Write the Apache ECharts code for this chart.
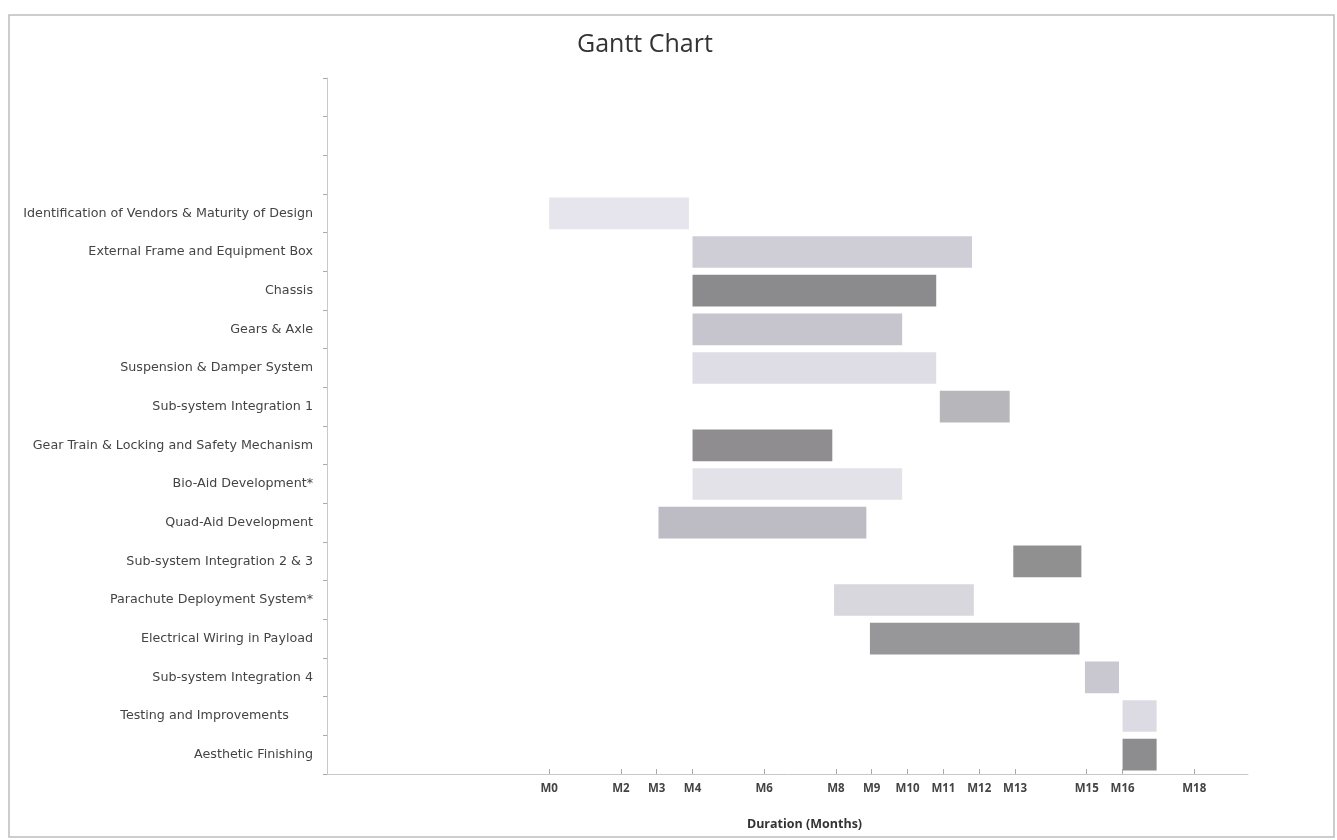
<!DOCTYPE html>
<html>
<head>
<meta charset="utf-8">
<script src="https://cdn.jsdelivr.net/npm/echarts@6/dist/echarts.min.js"></script>
<style>
html,body{margin:0;padding:0;background:#fff;}
#chart{width:1337px;height:840px;}
</style>
</head>
<body>
<div id="chart"></div>
<script>
// Tasks (top to bottom); three blank rows sit above the first task
const blankRows = [' ', '  ', '   '];
const tasks = [
  'Identification of Vendors & Maturity of Design',
  'External Frame and Equipment Box',
  'Chassis',
  'Gears & Axle',
  'Suspension & Damper System',
  'Sub-system Integration 1',
  'Gear Train & Locking and Safety Mechanism',
  'Bio-Aid Development*',
  'Quad-Aid Development',
  'Sub-system Integration 2 & 3',
  'Parachute Deployment System*',
  'Electrical Wiring in Payload',
  'Sub-system Integration 4',
  'Testing and Improvements      ',
  'Aesthetic Finishing'
];
// start month and duration (months)
const startMonth = [0, 4, 4, 4, 4, 10.9, 4, 4, 3.05, 12.95, 7.95, 8.95, 14.95, 16, 16];
const durationMonths = [3.9, 7.8, 6.8, 5.85, 6.8, 1.95, 3.9, 5.85, 5.8, 1.9, 3.9, 5.85, 0.95, 0.95, 0.95];
// x-axis tick positions (months)
const tickMonths = [0, 2, 3, 4, 6, 8, 9, 10, 11, 12, 13, 15, 16, 18];

const barColors = ['#e6e4ec','#cfcdd6','#8b8a8d','#c6c4cd','#dedce4','#b7b6ba','#8f8d90',
                   '#e4e2e9','#bdbbc3','#909091','#d9d7de','#979698','#c9c8d0','#dcdbe3','#8d8c8f'];

const cats = blankRows.concat(tasks);
const pad = blankRows.map(() => null);

const chart = echarts.init(document.getElementById('chart'));
chart.setOption({
  animation: false,
  backgroundColor: '#fff',
  title: {
    text: 'Gantt Chart',
    left: 572, top: 27,
    textStyle: {fontFamily: 'Open Sans', fontSize: 25, fontWeight: 'normal', color: '#333'}
  },
  graphic: [{
    type: 'rect',
    shape: {x: 9, y: 15, width: 1325, height: 822},
    style: {fill: 'none', stroke: '#bdbdbd', lineWidth: 1.5},
    silent: true
  }],
  grid: {left: 327, right: 89, top: 78, bottom: 66, containLabel: false},
  xAxis: {
    type: 'value',
    min: -6.2, max: 19.5,
    name: 'Duration (Months)',
    nameLocation: 'middle',
    nameGap: 44,
    nameTextStyle: {fontFamily: 'Open Sans', fontSize: 12.5, fontWeight: 'bold', color: '#333', padding: [0, 0, 0, 34]},
    axisLine: {show: true, lineStyle: {color: '#c8c8c8', width: 1}},
    axisTick: {show: true, inside: true, length: 5, customValues: tickMonths, lineStyle: {color: '#aaa'}},
    axisLabel: {
      customValues: tickMonths,
      formatter: v => 'M' + v,
      fontFamily: 'Open Sans', fontSize: 11.5, fontWeight: 'bold', color: '#444', margin: 9
    },
    splitLine: {show: false}
  },
  yAxis: {
    type: 'category',
    inverse: true,
    data: cats,
    axisLine: {show: true, onZero: false, lineStyle: {color: '#c8c8c8', width: 1}},
    axisTick: {show: true, length: 4, lineStyle: {color: '#aaa'}},
    axisLabel: {fontFamily: 'DejaVu Sans', fontSize: 12.7, color: '#444', margin: 14},
    splitLine: {show: false}
  },
  series: [
    {
      type: 'bar', stack: 'g', silent: true,
      data: pad.concat(startMonth),
      itemStyle: {color: 'transparent'},
      barCategoryGap: '18%'
    },
    {
      type: 'bar', stack: 'g',
      data: pad.concat(durationMonths.map((d, i) => ({value: d, itemStyle: {color: barColors[i]}}))),
      barCategoryGap: '18%'
    }
  ]
});
</script>
</body>
</html>
